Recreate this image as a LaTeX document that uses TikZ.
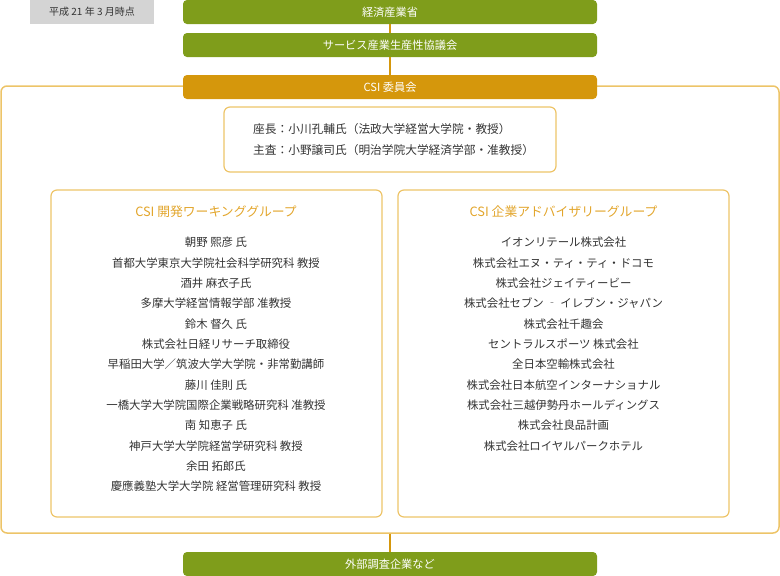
\documentclass[tikz,border=0pt]{standalone}
\usepackage{fontspec}
\setmainfont{Noto Sans CJK JP}
\definecolor{metigreen}{HTML}{7F9D1B}
\definecolor{csigold}{HTML}{D5970C}
\definecolor{framegold}{HTML}{EDC468}
\definecolor{titlegold}{HTML}{E2A52B}
\definecolor{txtgray}{HTML}{333333}
\definecolor{datebg}{HTML}{D4D4D4}

\begin{document}
\begin{tikzpicture}[x=1pt,y=-1pt]
    \tikzset{
    hdr/.style={rectangle,rounded corners=4pt,fill=metigreen,text=white,minimum width=414pt,minimum height=24pt,inner sep=0pt,font=\fontsize{11.2}{13}\selectfont},
    csi/.style={hdr,fill=csigold},
    grp/.style={rectangle,draw=framegold,line width=1.2pt,rounded corners=6pt,inner sep=0pt},
    mem/.style={text=txtgray,font=\fontsize{11.4}{13}\selectfont,text height=0.88em,text depth=0.12em,inner sep=0pt},
    ttl/.style={mem,text=titlegold,font=\fontsize{12.8}{15}\selectfont},
    link/.style={draw=csigold,line width=2pt},
    }
    \useasboundingbox (0,0) rectangle (780,576);

    % frames
    \node[grp,line width=1.5pt,minimum width=778pt,minimum height=447pt] (board) at (390,309.5) {};
    \node[grp,minimum width=332pt,minimum height=65pt] (chair) at (390,139.5) {};
    \node[grp,minimum width=331pt,minimum height=327pt] (wg) at (216.5,353.5) {};
    \node[grp,minimum width=331pt,minimum height=327pt] (adv) at (563.5,353.5) {};

    % header boxes
    \node[fill=datebg,minimum width=124pt,minimum height=24pt,inner sep=0pt,text=txtgray,font=\fontsize{10}{12}\selectfont] (date) at (92,12) {平成 21 年 3 月時点};
    \node[hdr] (meti) at (390,12) {経済産業省};
    \node[hdr] (spc) at (390,45) {サービス産業生産性協議会};
    \node[csi] (csic) at (390,87) {CSI 委員会};
    \node[hdr] (ext) at (390,564) {外部調査企業など};

    \draw[link] (meti) -- (spc);
    \draw[link] (spc) -- (csic);
    \draw[link] (board) -- (ext);

    % chair
    \node[mem,anchor=west,font=\fontsize{11.7}{13}\selectfont] (chair1) at (253,129.5) {座長：小川孔輔氏（法政大学経営大学院・教授）};
    \node[mem,anchor=west,font=\fontsize{11.7}{13}\selectfont] (chair2) at (253,150.5) {主査：小野譲司氏（明治学院大学経済学部・准教授）};

    % working group
    \node[ttl] (wgt) at (216,213) {CSI 開発ワーキンググループ};
    \node[mem] (wg1) at (216,243) {朝野 熙彦 氏};
    \node[mem] (wg2) at (216,263.3) {首都大学東京大学院社会科学研究科 教授};
    \node[mem] (wg3) at (216,283.7) {酒井 麻衣子氏};
    \node[mem] (wg4) at (216,304) {多摩大学経営情報学部 准教授};
    \node[mem] (wg5) at (216,324.3) {鈴木 督久 氏};
    \node[mem] (wg6) at (216,344.7) {株式会社日経リサーチ取締役};
    \node[mem] (wg7) at (216,365) {早稲田大学／筑波大学大学院・非常勤講師};
    \node[mem] (wg8) at (216,385.3) {藤川 佳則 氏};
    \node[mem] (wg9) at (216,405.7) {一橋大学大学院国際企業戦略研究科 准教授};
    \node[mem] (wg10) at (216,426) {南 知恵子 氏};
    \node[mem] (wg11) at (216,446.3) {神戸大学大学院経営学研究科 教授};
    \node[mem] (wg12) at (216,466.7) {余田 拓郎氏};
    \node[mem] (wg13) at (216,487) {慶應義塾大学大学院 経営管理研究科 教授};

    % advisory group
    \node[ttl] (advt) at (563.5,213) {CSI 企業アドバイザリーグループ};
    \node[mem] (adv1) at (563.5,243) {イオンリテール株式会社};
    \node[mem] (adv2) at (563.5,263.3) {株式会社エヌ・ティ・ティ・ドコモ};
    \node[mem] (adv3) at (563.5,283.7) {株式会社ジェイティービー};
    \node[mem] (adv4) at (563.5,304) {株式会社セブン ‐ イレブン・ジャパン};
    \node[mem] (adv5) at (563.5,324.3) {株式会社千趣会};
    \node[mem] (adv6) at (563.5,344.7) {セントラルスポーツ 株式会社};
    \node[mem] (adv7) at (563.5,365) {全日本空輸株式会社};
    \node[mem] (adv8) at (563.5,385.3) {株式会社日本航空インターナショナル};
    \node[mem] (adv9) at (563.5,405.7) {株式会社三越伊勢丹ホールディングス};
    \node[mem] (adv10) at (563.5,426) {株式会社良品計画};
    \node[mem] (adv11) at (563.5,446.3) {株式会社ロイヤルパークホテル};
\end{tikzpicture}
\end{document}
